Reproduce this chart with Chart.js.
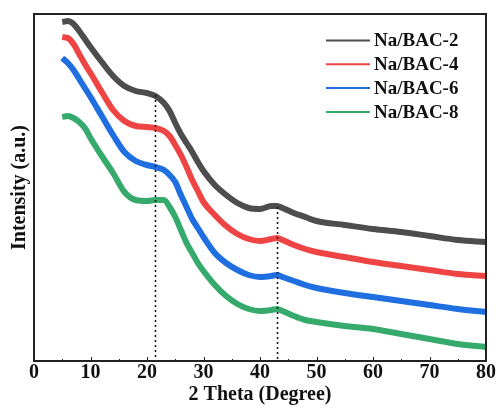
<!DOCTYPE html>
<html lang="en">
<head>
<meta charset="UTF-8">
<title>XRD Na/BAC</title>
<script src="https://cdn.jsdelivr.net/npm/chart.js@4.4.1/dist/chart.umd.min.js"></script>
<style>
    html, body { margin: 0; padding: 0; background: #fff; }
    canvas { display: block; }
</style>
</head>
<body>
<canvas id="xrd" width="499" height="409"></canvas>
<script>
    // 2 theta positions and intensities (a.u.)
    const theta = [5, 6, 7, 8, 9, 10, 12, 14, 16, 18, 20, 21.5, 23, 24, 25, 26, 27, 28, 29, 30,
        32, 34, 36, 38, 40, 42, 43, 44, 46, 48, 50, 55, 60, 65, 70, 75, 80];

    const bac2 = [339, 340, 337, 330, 322, 314, 299, 285, 275, 270, 268, 265, 258, 250, 238, 227, 218, 209, 199, 190,
        176, 166, 158, 153, 152, 155, 155, 153, 148, 144, 140, 136, 132, 129, 125, 121, 119];
    const bac4 = [324, 323, 317, 307, 297, 288, 269, 251, 240, 235, 234, 233, 230, 225, 216, 206, 194, 181, 170, 159,
        146, 135, 127, 122, 120, 122, 123, 121, 116, 112, 109, 104, 99, 95, 91, 87, 85];
    const bac6 = [303, 298, 291, 282, 273, 264, 245, 226, 209, 200, 196, 194, 191, 186, 179, 166, 154, 142, 133, 124,
        108, 98, 91, 86, 84, 85, 86, 84, 80, 76, 73, 68, 64, 60, 56, 52, 49];
    const bac8 = [244, 245, 243, 239, 233, 223, 205, 188, 169, 161, 160, 161, 161, 154, 144, 131, 118, 108, 98, 90,
        76, 65, 57, 52, 50, 51, 52, 50, 45, 41, 39, 35, 32, 27, 22, 17, 14];

    const labels = ['Na/BAC-2', 'Na/BAC-4', 'Na/BAC-6', 'Na/BAC-8'];
    const colors = ['#4d4d4d', '#ef4444', '#1f6fe0', '#36aa6c'];

    // dotted guide lines (2 theta, top intensity)
    const guideX = [21.5, 43.1];
    const guideTop = [266, 154];

    const FONT = '"Liberation Serif", "Times New Roman", serif';

    function pts(arr) {
        return theta.map((t, i) => ({ x: t, y: arr[i] }));
    }

    const series = [bac2, bac4, bac6, bac8].map((arr, i) => ({
        label: labels[i],
        data: pts(arr),
        borderColor: colors[i],
        backgroundColor: colors[i],
        borderWidth: 6,
        pointRadius: 0,
        cubicInterpolationMode: 'monotone',
        order: 1
    }));

    const guides = guideX.map((gx, i) => ({
        label: 'guide',
        data: [{ x: gx, y: guideTop[i] }, { x: gx, y: 0 }],
        borderColor: '#111',
        borderWidth: 1.5,
        borderDash: [2, 3],
        pointRadius: 0,
        order: 0
    }));

    // frame, small inner ticks and the legend
    const decor = {
        id: 'decor',
        afterDraw(chart) {
            const c = chart.ctx;
            const a = chart.chartArea;
            const xs = chart.scales.x;
            c.save();
            c.strokeStyle = '#222';
            c.lineWidth = 2;
            c.strokeRect(a.left, a.top, a.right - a.left, a.bottom - a.top);

            c.lineWidth = 1;
            for (let v = 0; v <= 80; v += 5) {
                const px = Math.round(xs.getPixelForValue(v)) + 0.5;
                const len = v % 10 === 0 ? 4 : 2;
                c.beginPath();
                c.moveTo(px, a.bottom);
                c.lineTo(px, a.bottom - len);
                c.stroke();
            }

            c.font = 'bold 19px ' + FONT;
            c.textBaseline = 'middle';
            c.fillStyle = '#111';
            labels.forEach((lab, i) => {
                const y = 40.5 + i * 23.8;
                c.strokeStyle = colors[i];
                c.lineWidth = 2;
                c.beginPath();
                c.moveTo(326, y);
                c.lineTo(370, y);
                c.stroke();
                c.fillText(lab, 374, y + 1);
            });
            c.restore();
        }
    };

    new Chart(document.getElementById('xrd').getContext('2d'), {
        type: 'line',
        data: { datasets: series.concat(guides) },
        options: {
            responsive: false,
            animation: false,
            layout: { padding: { top: 14, right: 13, left: 0, bottom: 0 } },
            plugins: {
                legend: { display: false },
                tooltip: { enabled: false }
            },
            scales: {
                x: {
                    type: 'linear',
                    min: 0,
                    max: 80,
                    grid: { display: false, drawTicks: false },
                    border: { display: false },
                    ticks: {
                        stepSize: 10,
                        padding: 0,
                        color: '#111',
                        font: { family: FONT, size: 20, weight: 'bold' }
                    },
                    title: {
                        display: true,
                        text: '2 Theta (Degree)',
                        color: '#111',
                        padding: { top: 0, bottom: 2 },
                        font: { family: FONT, size: 20, weight: 'bold' }
                    },
                    afterFit(scale) { scale.height = 48; }
                },
                y: {
                    min: 0,
                    max: 347,
                    grid: { display: false, drawTicks: false },
                    border: { display: false },
                    ticks: { display: false },
                    title: {
                        display: true,
                        text: 'Intensity (a.u.)',
                        color: '#111',
                        padding: { top: 8, bottom: 0 },
                        font: { family: FONT, size: 20, weight: 'bold' }
                    },
                    afterFit(scale) { scale.width = 34; }
                }
            }
        },
        plugins: [decor]
    });
</script>
</body>
</html>
